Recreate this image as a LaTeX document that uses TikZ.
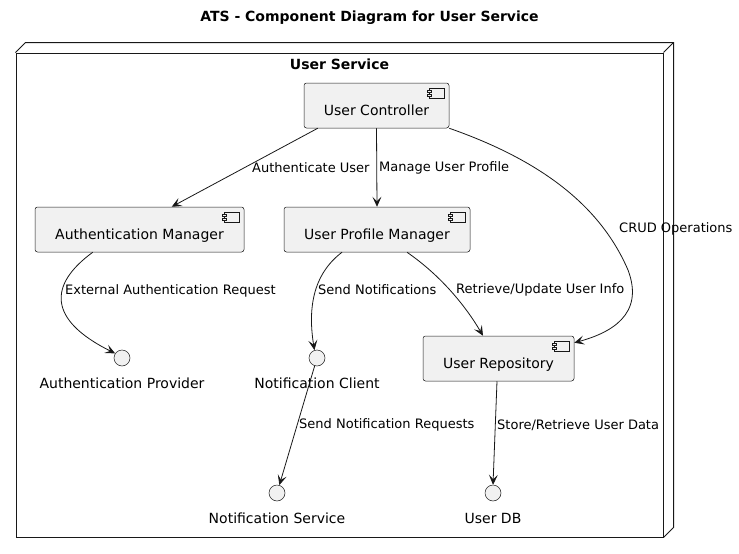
\documentclass[tikz,border=0pt]{standalone}
\usepackage{fontspec}
\setmainfont{DejaVu Sans}
\usetikzlibrary{arrows.meta}
\definecolor{lineC}{HTML}{181818}
\definecolor{fillC}{HTML}{F1F1F1}
\tikzset{
  comp/.style={draw=lineC, line width=0.5pt, fill=fillC, rounded corners=2.5pt,
    inner sep=0pt, text height=21pt, text depth=2pt,
    font=\fontsize{14}{16}\selectfont},
  iface/.style={circle, draw=lineC, line width=0.5pt, fill=fillC, minimum size=16pt, inner sep=0pt},
  ifacelbl/.style={inner sep=0pt, font=\fontsize{14}{16}\selectfont},
  elbl/.style={inner sep=0pt, anchor=west, font=\fontsize{13}{15}\selectfont},
  conn/.style={draw=lineC, line width=0.8pt, -{Stealth[length=10pt,width=9pt,inset=4.5pt]}},
  iconline/.style={draw=lineC, line width=0.5pt, fill=fillC},
}
\newcommand\compicon[1]{%
  \draw[iconline] ([xshift=-20pt,yshift=-5pt]#1.north east) rectangle ++(15pt,-10pt);
  \draw[iconline] ([xshift=-22pt,yshift=-7pt]#1.north east) rectangle ++(4pt,-2pt);
  \draw[iconline] ([xshift=-22pt,yshift=-11pt]#1.north east) rectangle ++(4pt,-2pt);
}
\begin{document}
\begin{tikzpicture}[x=1pt,y=-1pt]
\useasboundingbox (0,0) rectangle (739,554);
\fill[white] (0,0) rectangle (739,554);

% title
\node[font=\bfseries\fontsize{14}{16}\selectfont, inner sep=0pt] (title) at (369.5,18) {ATS - Component Diagram for User Service};

% frame (node shape)
\node[draw=lineC, line width=1pt, minimum width=647pt, minimum height=484pt, inner sep=0pt] (frame) at (339.5,295) {};
\draw[lineC, line width=1pt] (frame.north west) -- ++(10pt,10pt) -- ([xshift=10pt,yshift=10pt]frame.north east) -- ([xshift=10pt,yshift=10pt]frame.south east) -- (frame.south east);
\draw[lineC, line width=1pt] (frame.north east) -- ++(10pt,10pt);
\node[font=\bfseries\fontsize{14}{16}\selectfont, inner sep=0pt] (frametitle) at (339.5,64) {User Service};

% components
\node[comp, minimum width=145pt, minimum height=45pt] (uc) at (376.5,105.5) {User Controller};
\node[comp, minimum width=209pt, minimum height=45pt] (am) at (139.5,229.5) {Authentication Manager};
\node[comp, minimum width=186pt, minimum height=45pt] (upm) at (377,229.5) {User Profile Manager};
\node[comp, minimum width=151pt, minimum height=45pt] (ur) at (498.5,358.5) {User Repository};
\compicon{uc}
\compicon{am}
\compicon{upm}
\compicon{ur}

% interfaces
\node[iface] (ap) at (122,358) {};
\node[ifacelbl] (aplbl) at (122,383) {Authentication Provider};
\node[iface] (nc) at (317,358) {};
\node[ifacelbl] (nclbl) at (317,383) {Notification Client};
\node[iface] (ns) at (277,493) {};
\node[ifacelbl] (nslbl) at (277,518) {Notification Service};
\node[iface] (db) at (493,493) {};
\node[ifacelbl] (dblbl) at (493,518) {User DB};

% connectors
\draw[conn] ([xshift=14pt]uc.south west) -- ([xshift=137pt]am.north west);
\node[elbl] (l1) at (252,168) {Authenticate User};

\draw[conn] (uc.south) -- (upm.north);
\node[elbl] (l2) at (379,168) {Manage User Profile};

\draw[conn] (uc.south east) .. controls (540,160) and (600,205) .. (628,270)
  .. controls (645,315) and (610,333) .. ([yshift=-7pt]ur.north east);
\node[elbl] (l3) at (619,229) {CRUD Operations};

\draw[conn] ([xshift=58pt]am.south west) .. controls (48,285) and (48,320) .. (ap.146);
\node[elbl] (l4) at (65,291) {External Authentication Request};

\draw[conn] ([xshift=-35pt]upm.south) .. controls (312,275) and (308,310) .. (nc.108);
\node[elbl] (l5) at (318,290) {Send Notifications};

\draw[conn] ([xshift=30pt]upm.south) .. controls (440,275) and (465,305) .. ([xshift=-15.5pt]ur.north);
\node[elbl] (l6) at (456,290) {Retrieve/Update User Info};

\draw[conn] (nc) -- (ns);
\node[elbl] (l7) at (299,425) {Send Notification Requests};

\draw[conn] ([xshift=-1.5pt]ur.south) -- (db.north);
\node[elbl] (l8) at (497,425) {Store/Retrieve User Data};
\end{tikzpicture}
\end{document}
